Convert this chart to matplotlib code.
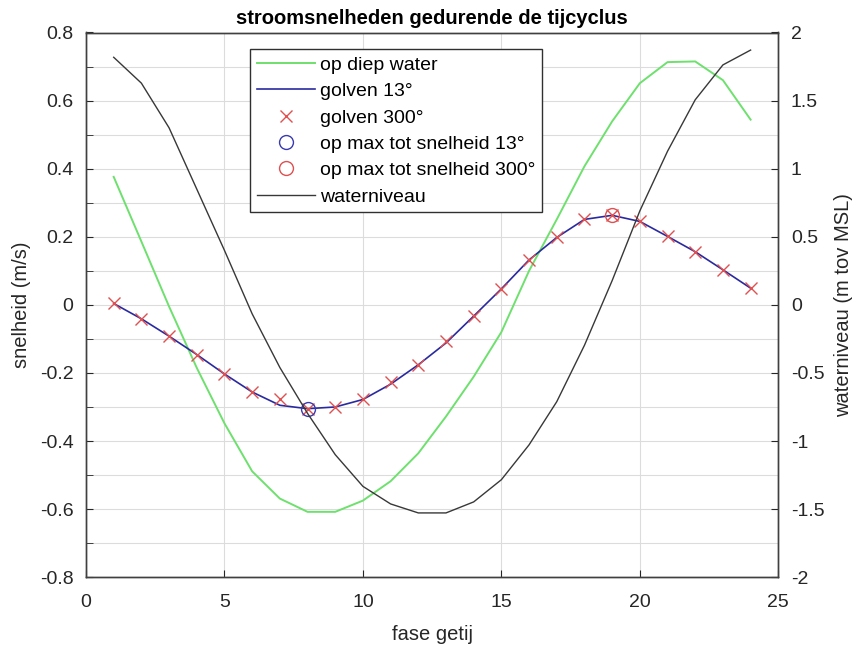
import matplotlib
matplotlib.use("Agg")
import matplotlib.pyplot as plt
from matplotlib.ticker import MultipleLocator

plt.rcParams['font.family'] = ['Liberation Sans', 'DejaVu Sans']

# fase van het getij (uur)
fase = list(range(1, 25))

# stroomsnelheid op diep water (m/s)
diep_water = [0.376, 0.186, -0.005, -0.185, -0.348, -0.489, -0.569, -0.608,
              -0.608, -0.575, -0.518, -0.436, -0.328, -0.211, -0.08, 0.10,
              0.251, 0.407, 0.539, 0.651, 0.713, 0.715, 0.66, 0.544]

# stroomsnelheid met golven uit 13 graden
golven_13 = [0.004, -0.041, -0.092, -0.146, -0.203, -0.256, -0.295, -0.305,
             -0.30, -0.278, -0.233, -0.176, -0.112, -0.033, 0.047, 0.132,
             0.198, 0.251, 0.263, 0.245, 0.201, 0.156, 0.103, 0.049]

# stroomsnelheid met golven uit 300 graden
golven_300 = [0.004, -0.041, -0.092, -0.146, -0.203, -0.256, -0.276, -0.305,
              -0.30, -0.278, -0.228, -0.176, -0.106, -0.033, 0.047, 0.132,
              0.198, 0.251, 0.263, 0.245, 0.201, 0.156, 0.103, 0.049]

# waterniveau (m tov MSL)
waterniveau = [1.818, 1.628, 1.30, 0.85, 0.40, -0.066, -0.46, -0.797,
               -1.10, -1.333, -1.462, -1.528, -1.528, -1.447, -1.284, -1.028,
               -0.711, -0.297, 0.178, 0.69, 1.128, 1.506, 1.762, 1.871]

# moment van maximale totale snelheid
max_13_x, max_13_y = 8, -0.305
max_300_x, max_300_y = 19, 0.263

fig = plt.figure(figsize=(8.6, 6.5), dpi=100)
ax = fig.add_axes([0.1, 0.112, 0.805, 0.838])
ax2 = ax.twinx()

l1, = ax.plot(fase, diep_water, color='#6ee06e', lw=1.4, label='op diep water')
l2, = ax.plot(fase, golven_13, color='#2a2aa0', lw=1.2, label='golven 13°')
l3, = ax.plot(fase, golven_300, 'x', color='#e05050', ms=8, mew=1.0,
              label='golven 300°')
l4, = ax.plot([max_13_x], [max_13_y], 'o', mfc='none', mec='#3a3ab0', ms=10,
              mew=1.0, label='op max tot snelheid 13°')
l5, = ax.plot([max_300_x], [max_300_y], 'o', mfc='none', mec='#e05050', ms=10,
              mew=1.0, label='op max tot snelheid 300°')
l6, = ax2.plot(fase, waterniveau, color='#383838', lw=1.0, label='waterniveau')

ax.set_xlim(0, 25)
ax.set_ylim(-0.8, 0.8)
ax2.set_ylim(-2, 2)
ax.xaxis.set_major_locator(MultipleLocator(5))
ax.yaxis.set_major_locator(MultipleLocator(0.2))
ax.yaxis.set_minor_locator(MultipleLocator(0.1))
ax2.yaxis.set_major_locator(MultipleLocator(0.5))
ax.set_yticklabels([f'{v:g}' for v in ax.get_yticks()])
ax2.set_yticklabels([f'{v:g}' for v in ax2.get_yticks()])

ax.grid(True, which='both', color='#dcdcdc', lw=0.8)
ax.set_axisbelow(True)

for a in (ax, ax2):
    a.tick_params(labelsize=14, colors='#262626', direction='in', length=5)
    a.tick_params(which='minor', direction='in', length=5, colors='#262626')
    for s in a.spines.values():
        s.set_color('#404040')
        s.set_linewidth(1.0)
ax.tick_params(axis='y', pad=9)
ax.tick_params(axis='x', pad=12)
ax2.tick_params(axis='y', pad=9)

ax.set_xlabel('fase getij', fontsize=14.5, color='#262626', labelpad=10)
ax.set_ylabel('snelheid (m/s)', fontsize=14.5, color='#262626', labelpad=6)
ax2.set_ylabel('waterniveau (m tov MSL)', fontsize=14.5, color='#262626',
               labelpad=7)
ax.set_title('stroomsnelheden gedurende de tijcyclus', fontsize=14.5,
             fontweight='bold', pad=6)

leg = ax2.legend(handles=[l1, l2, l3, l4, l5, l6], loc='upper left',
                 bbox_to_anchor=(0.237, 0.969), fontsize=14, frameon=True,
                 fancybox=False, edgecolor='#303030', framealpha=1,
                 borderpad=0.35, labelspacing=0.45, handlelength=3.0,
                 handletextpad=0.25, borderaxespad=0)
leg.get_frame().set_linewidth(1.0)

fig.savefig('out.png', dpi=100)
